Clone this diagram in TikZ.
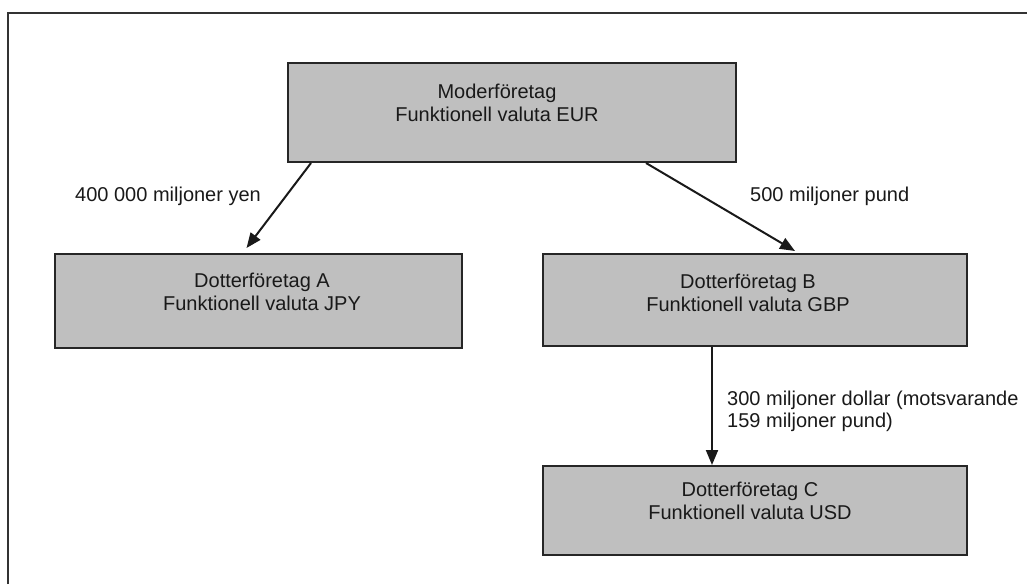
\documentclass[tikz,border=0pt]{standalone}
\usepackage{fontspec}
\setmainfont{Liberation Sans}
\usetikzlibrary{arrows.meta}
\begin{document}
\begin{tikzpicture}[x=1pt,y=-1pt,
  box/.style={draw=black!85,line width=2pt,fill=black!25,inner sep=0pt},
  txt/.style={font=\fontsize{20}{23}\selectfont,align=center,inner sep=0pt,text=black!90},
  lbl/.style={font=\fontsize{20}{22}\selectfont,align=left,inner sep=0pt,text=black!90},
  arr/.style={draw=black!90,line width=2pt,-{Triangle[length=15pt,width=12pt]}},
  frame/.style={draw=black!80,line width=2pt}]
\useasboundingbox (0,0) rectangle (1027,584);
\draw[frame] (8,584) -- (8,13) -- (1027,13);
\node[box,minimum width=448pt,minimum height=99pt] (m) at (512,112.5) {};
\node[box,minimum width=407pt,minimum height=94pt] (a) at (258.5,301) {};
\node[box,minimum width=424pt,minimum height=92pt] (b) at (755,300) {};
\node[box,minimum width=424pt,minimum height=89pt] (c) at (755,510.5) {};
\node[txt] (mt) at (497,103) {Moderföretag\\Funktionell valuta EUR};
\node[txt] (at) at (262,292) {Dotterföretag A\\Funktionell valuta JPY};
\node[txt] (bt) at (748,293) {Dotterföretag B\\Funktionell valuta GBP};
\node[txt] (ct) at (750,501) {Dotterföretag C\\Funktionell valuta USD};
\draw[arr] ([xshift=24pt]m.south west) -- ([xshift=-12pt,yshift=5pt]a.north);
\draw[arr] ([xshift=-91pt]m.south east) -- ([xshift=40pt,yshift=2pt]b.north);
\draw[arr] ([xshift=-43pt]b.south) -- ([xshift=-43pt]c.north);
\node[lbl,anchor=base west] (l1) at (75,201) {400 000 miljoner yen};
\node[lbl,anchor=base west] (l2) at (750,201) {500 miljoner pund};
\node[lbl,anchor=west] (l3) at (727,411) {300 miljoner dollar (motsvarande\\159 miljoner pund)};
\end{tikzpicture}
\end{document}
